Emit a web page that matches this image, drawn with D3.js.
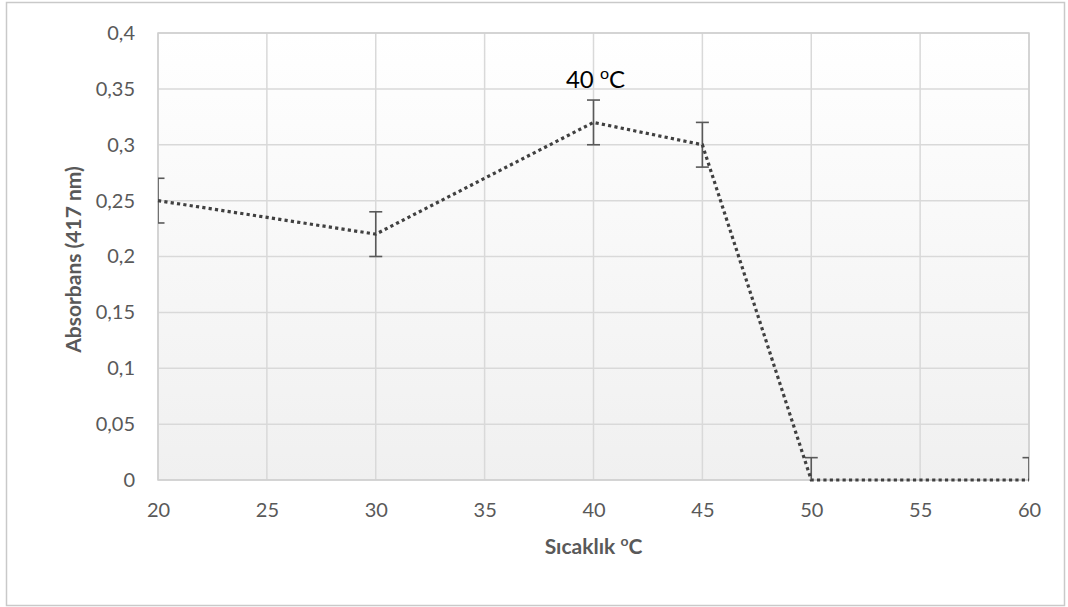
<!DOCTYPE html>
<html>
<head>
<meta charset="utf-8">
<script src="https://cdn.jsdelivr.net/npm/d3@7"></script>
<style>
  html, body { margin: 0; padding: 0; background: #fff; }
  svg { display: block; }
  text { font-family: Lato, "Open Sans", sans-serif; }
</style>
</head>
<body>
<svg id="chart" width="1068" height="607"></svg>
<script>
// Temperature (°C) vs absorbance at 417 nm, with error margins
const temperatures = [20, 30, 40, 45, 50, 60];
const absorbance   = [0.25, 0.22, 0.32, 0.30, 0, 0];
const errPlus      = [0.02, 0.02, 0.02, 0.02, 0.02, 0.02];
const errMinus     = [0.02, 0.02, 0.02, 0.02, 0.02, 0.02];
const xTicks = [20, 25, 30, 35, 40, 45, 50, 55, 60];
const yTicks = [0, 0.05, 0.1, 0.15, 0.2, 0.25, 0.3, 0.35, 0.4];
const peakTemp = 40;

const svg = d3.select("#chart");
const plot = { left: 158, right: 1029, top: 33, bottom: 480 };

// outer frame
svg.append("rect")
  .attr("x", 6.5).attr("y", 2.5).attr("width", 1058).attr("height", 603)
  .attr("fill", "#fff").attr("stroke", "#c9c9c9").attr("stroke-width", 1.5);

const x = d3.scaleLinear().domain([20, 60]).range([plot.left, plot.right]);
const y = d3.scaleLinear().domain([0, 0.4]).range([plot.bottom, plot.top]);

const defs = svg.append("defs");
const grad = defs.append("linearGradient").attr("id", "bg")
  .attr("x1", 0).attr("y1", 0).attr("x2", 0).attr("y2", 1);
grad.append("stop").attr("offset", "0%").attr("stop-color", "#ffffff");
grad.append("stop").attr("offset", "100%").attr("stop-color", "#f0f0f0");
defs.append("clipPath").attr("id", "clip").append("rect")
  .attr("x", plot.left).attr("y", plot.top)
  .attr("width", plot.right - plot.left).attr("height", plot.bottom - plot.top);

// plot background
svg.append("rect")
  .attr("x", plot.left).attr("y", plot.top)
  .attr("width", plot.right - plot.left).attr("height", plot.bottom - plot.top)
  .attr("fill", "url(#bg)");

// gridlines
const grid = svg.append("g").attr("stroke", "#d9d9d9").attr("stroke-width", 1.5);
grid.selectAll("line.h").data(yTicks).join("line").attr("class", "h")
  .attr("x1", plot.left).attr("x2", plot.right)
  .attr("y1", d => y(d)).attr("y2", d => y(d));
grid.selectAll("line.v").data(xTicks).join("line").attr("class", "v")
  .attr("y1", plot.top).attr("y2", plot.bottom)
  .attr("x1", d => x(d)).attr("x2", d => x(d));

// plot border
svg.append("rect")
  .attr("x", plot.left).attr("y", plot.top)
  .attr("width", plot.right - plot.left).attr("height", plot.bottom - plot.top)
  .attr("fill", "none").attr("stroke", "#cfcfcf").attr("stroke-width", 1.5);

// axes (labels only)
const fmt = d => String(+d.toFixed(2)).replace(".", ",");
const yAxis = svg.append("g").attr("transform", `translate(${plot.left},0)`)
  .call(d3.axisLeft(y).tickValues(yTicks).tickFormat(fmt).tickSize(0).tickPadding(23));
const xAxis = svg.append("g").attr("transform", `translate(0,${plot.bottom})`)
  .call(d3.axisBottom(x).tickValues(xTicks).tickFormat(d3.format("d")).tickSize(0).tickPadding(23));
[yAxis, xAxis].forEach(a => {
  a.select(".domain").remove();
  a.selectAll("text").attr("fill", "#595959").style("font-size", "20px")
    .style("font-family", "Lato, 'Open Sans', sans-serif");
});

// axis titles
const xt = svg.append("text")
  .attr("x", (plot.left + plot.right) / 2).attr("y", 554)
  .attr("text-anchor", "middle").attr("fill", "#595959")
  .style("font-size", "21px").style("font-weight", "bold");
xt.append("tspan").text("Sıcaklık ");
xt.append("tspan").text("o").style("font-size", "14px").attr("dy", -8);
xt.append("tspan").text("C").attr("dy", 8);

svg.append("text")
  .attr("transform", `translate(81,${(plot.top + plot.bottom) / 2 + 3}) rotate(-90)`)
  .attr("text-anchor", "middle").attr("fill", "#595959")
  .style("font-size", "21px").style("font-weight", "bold")
  .text("Absorbans (417 nm)");

const data = temperatures.map((t, i) => ({ t, v: absorbance[i], hi: errPlus[i], lo: errMinus[i] }));

// error bars
const eb = svg.append("g").attr("clip-path", "url(#clip)")
  .attr("stroke", "#595959").attr("stroke-width", 1.6).attr("fill", "none");
data.forEach(d => {
  const cx = x(d.t);
  eb.append("line").attr("x1", cx).attr("x2", cx)
    .attr("y1", y(d.v + d.hi)).attr("y2", y(d.v - d.lo));
  [d.v + d.hi, d.v - d.lo].forEach(e => {
    eb.append("line").attr("x1", cx - 6.5).attr("x2", cx + 6.5)
      .attr("y1", y(e)).attr("y2", y(e));
  });
});

// series line
svg.append("path")
  .datum(data)
  .attr("fill", "none").attr("stroke", "#404040")
  .attr("stroke-width", 3.2).attr("stroke-dasharray", "3.2 3.2")
  .attr("d", d3.line().x(d => x(d.t)).y(d => y(d.v)));

// peak annotation
const pk = data.find(d => d.t === peakTemp);
const ann = svg.append("text")
  .attr("x", x(pk.t) + 2).attr("y", y(pk.v) - 34)
  .attr("text-anchor", "middle").attr("fill", "#000")
  .style("font-size", "24px");
ann.append("tspan").text(peakTemp + " ");
ann.append("tspan").text("o").style("font-size", "16px").attr("dy", -9);
ann.append("tspan").text("C").attr("dy", 9);
</script>
</body>
</html>
